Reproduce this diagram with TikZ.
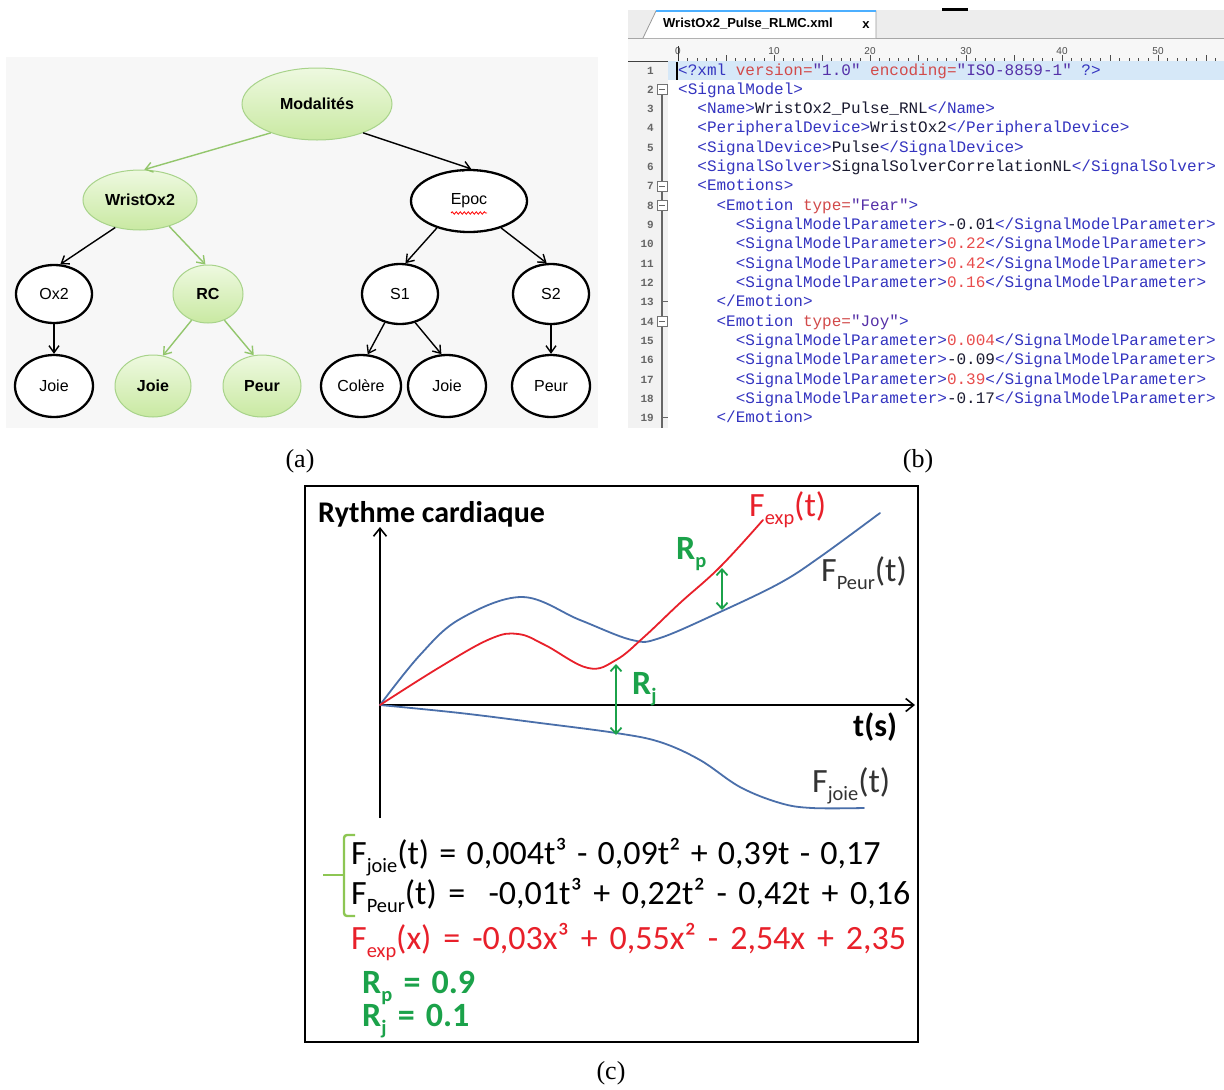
\documentclass[tikz,border=0pt]{standalone}
\usepackage{fontspec}
\setmainfont{Liberation Serif}
\newfontfamily\arialf{Liberation Sans}
\newfontfamily\monof{Liberation Mono}
\newfontfamily\calf{Carlito}
\usetikzlibrary{arrows.meta,shapes.geometric,decorations.pathmorphing}
\definecolor{gtop}{HTML}{EEF9E0}
\definecolor{gbot}{HTML}{C9E9A2}
\definecolor{gedge}{HTML}{A8D38A}
\definecolor{garr}{HTML}{93C66C}
\definecolor{panelbg}{HTML}{F7F7F7}
\definecolor{xtag}{HTML}{3434C0}
\definecolor{xattr}{HTML}{D24A4A}
\definecolor{xval}{HTML}{5530A8}
\definecolor{xnum}{HTML}{E84C4C}
\definecolor{xtext}{HTML}{1A1A30}
\definecolor{curveblue}{HTML}{4A6FAA}
\definecolor{expred}{HTML}{E8202A}
\definecolor{rgreen}{HTML}{1BA24A}
\definecolor{brgreen}{HTML}{8DC653}
\definecolor{hlblue}{HTML}{D6E8F8}
\makeatletter
\newcommand\mysub[1]{{\dimen@=\f@size pt\dimen@=0.6\dimen@\raisebox{-0.25em}{\fontsize{\strip@pt\dimen@}{\strip@pt\dimen@}\selectfont#1}}}
\makeatother
\newlength\eqspace
\newcommand\wsp[1]{\setlength\eqspace{#1}\spaceskip=\eqspace\relax}
\newcommand\xt[1]{\textcolor{xtag}{#1}}
\newcommand\xa[1]{\textcolor{xattr}{#1}}
\newcommand\xv[1]{\textcolor{xval}{#1}}
\newcommand\xn[1]{\textcolor{xnum}{#1}}
\newcommand\smpo{\xt{<SignalModelParameter>}}
\newcommand\smpc{\xt{</SignalModelParameter>}}
\tikzset{
  gnode/.style={ellipse, draw=gedge, line width=1pt, top color=gtop, bottom color=gbot,
    font=\arialf\bfseries\fontsize{16}{18}\selectfont, inner sep=0pt},
  bnode/.style={ellipse, draw=black, line width=2.3pt, fill=white,
    font=\arialf\fontsize{16}{18}\selectfont, inner sep=0pt},
  garrow/.style={draw=garr, line width=1.4pt, -{Straight Barb[length=7pt,width=10pt]}},
  barrow/.style={draw=black, line width=1.4pt, -{Straight Barb[length=7pt,width=10pt]}},
  xline/.style={anchor=base west, inner sep=0pt, font=\monof\fontsize{16}{18}\selectfont, text=xtext},
  lnum/.style={anchor=base east, inner sep=0pt, font=\monof\bfseries\fontsize{11}{12}\selectfont, text=black!60},
  foldbox/.style={draw=black!55, fill=white, line width=0.8pt},
  rtick/.style={draw=black!70, line width=0.8pt},
  plotlbl/.style={anchor=base west, inner sep=0pt, font=\calf\fontsize{34}{40}\selectfont},
  caplbl/.style={font=\fontsize{26}{30}\selectfont, inner sep=0pt},
  curve/.style={line width=1.8pt, line join=round, line cap=round},
  gdarrow/.style={draw=rgreen, line width=1.8pt, {Straight Barb[length=6pt,width=11pt]}-{Straight Barb[length=6pt,width=11pt]}},
  axisarrow/.style={draw=black, line width=1.6pt, -{Straight Barb[length=8pt,width=13pt]}}
}
\begin{document}
\begin{tikzpicture}[x=1pt,y=-1pt]
\useasboundingbox (0,0) rectangle (1224,1090);
\fill[white] (0,0) rectangle (1224,1090);

% ---------------- (a) tree ----------------
\fill[panelbg] (6,57) rectangle (598,428);
\node[gnode, minimum width=150pt, minimum height=72pt] (mod) at (317,104) {Modalités};
\node[gnode, minimum width=114pt, minimum height=60pt] (wo) at (140,200) {WristOx2};
\node[bnode, minimum width=116pt, minimum height=62pt] (ep) at (469,201) {Epoc};
\node[bnode, minimum width=76pt, minimum height=58pt] (ox) at (54,294) {Ox2};
\node[gnode, minimum width=70pt, minimum height=58pt] (rc) at (208,294) {RC};
\node[bnode, minimum width=76pt, minimum height=60pt] (s1) at (400,294) {S1};
\node[bnode, minimum width=76pt, minimum height=60pt] (s2) at (551,294) {S2};
\node[bnode, minimum width=78pt, minimum height=62pt] (j1) at (54,386) {Joie};
\node[gnode, minimum width=76pt, minimum height=62pt] (j2) at (153,386) {Joie};
\node[gnode, minimum width=78pt, minimum height=62pt] (p1) at (262,386) {Peur};
\node[bnode, minimum width=80pt, minimum height=62pt] (co) at (361,386) {Colère};
\node[bnode, minimum width=78pt, minimum height=62pt] (j3) at (447,386) {Joie};
\node[bnode, minimum width=78pt, minimum height=62pt] (p2) at (551,386) {Peur};
\draw[red, line width=0.8pt, decorate, decoration={snake, amplitude=1.2pt, segment length=4pt}] (451,213) -- (487,213);
\draw[garrow] (mod.212) -- (wo.82);
\draw[barrow] (mod.-32) -- (ep.86);
\draw[barrow] (wo.228) -- (ox.78);
\draw[garrow] (wo.-42) -- (rc.95);
\draw[barrow] (ox.south) -- (j1.north);
\draw[garrow] (rc.238) -- (j2.72);
\draw[garrow] (rc.-58) -- (p1.105);
\draw[barrow] (ep.220) -- (s1.80);
\draw[barrow] (ep.-40) -- (s2.98);
\draw[barrow] (s1.242) -- (co.78);
\draw[barrow] (s1.-62) -- (j3.100);
\draw[barrow] (s2.south) -- (p2.north);

% ---------------- (b) xml editor ----------------
\fill[black!7] (628,10) rectangle (1224,38);
\fill[black!3] (628,38) rectangle (1224,62);
\draw[black!35, line width=0.8pt] (628,38) -- (1224,38);
\fill[white] (643,38) -- (656,11) -- (876,11) -- (876,38) -- cycle;
\draw[black!40, line width=0.8pt] (643,38) -- (656,11) -- (876,11) -- (876,38);
\draw[blue!45!cyan!70, line width=2pt] (656,11) -- (876,11);
\node[anchor=west, inner sep=0pt, font=\arialf\bfseries\fontsize{13}{15}\selectfont] (tab) at (663,24) {WristOx2\_Pulse\_RLMC.xml};
\node[inner sep=0pt, font=\arialf\bfseries\fontsize{13}{15}\selectfont] (tabx) at (866,25) {x};
\draw[black, line width=3pt] (942,9) -- (968,9);
% ruler
\foreach \k in {0,...,56} \draw[rtick] ({678+9.6*\k},58) -- ({678+9.6*\k},61);
\foreach \k in {0,5,...,55} \draw[rtick] ({678+9.6*\k},55) -- ({678+9.6*\k},61);
\foreach \k in {0,10,20,30,40,50} \node[inner sep=0pt, font=\arialf\fontsize{10}{11}\selectfont, text=black!70] at ({678+9.6*\k},51) {\k};
\draw[black!75, line width=1pt] (628,61.5) -- (1224,61.5);
\draw[black!80, line width=1pt] (678,46) -- (678,61);
% editor
\fill[white] (628,62) rectangle (1224,428);
\fill[black!5] (628,62) rectangle (668,428);
\fill[hlblue] (668,61) rectangle (1224,80);
\draw[black, line width=1.2pt] (677,62) -- (677,80);
\draw[black!60, line width=1.2pt] (662,87) -- (662,428);
\foreach \i in {2,7,8,14} {
  \draw[foldbox] ({657},{70+19.33*(\i-1)-5}) rectangle ({667},{70+19.33*(\i-1)+5});
  \draw[black!60, line width=0.8pt] (659,{70+19.33*(\i-1)}) -- (665,{70+19.33*(\i-1)});
}
\foreach \i in {13,19} \draw[black!60, line width=1pt] (662,{70+19.33*(\i-1)}) -- (668,{70+19.33*(\i-1)});
\foreach \i in {1,...,19} \node[lnum] at (654,{70+19.33*(\i-1)+4}) {\i};
\node[xline] (xl1) at (678,75) {\xt{<?xml} \xa{version=}\xv{"1.0"} \xa{encoding=}\xv{"ISO-8859-1"} \xt{?>}};
\node[xline] (xl2) at (678,{75+19.33*1}) {\xt{<SignalModel>}};
\node[xline] (xl3) at (697.2,{75+19.33*2}) {\xt{<Name>}WristOx2\_Pulse\_RNL\xt{</Name>}};
\node[xline] (xl4) at (697.2,{75+19.33*3}) {\xt{<PeripheralDevice>}WristOx2\xt{</PeripheralDevice>}};
\node[xline] (xl5) at (697.2,{75+19.33*4}) {\xt{<SignalDevice>}Pulse\xt{</SignalDevice>}};
\node[xline] (xl6) at (697.2,{75+19.33*5}) {\xt{<SignalSolver>}SignalSolverCorrelationNL\xt{</SignalSolver>}};
\node[xline] (xl7) at (697.2,{75+19.33*6}) {\xt{<Emotions>}};
\node[xline] (xl8) at (716.4,{75+19.33*7}) {\xt{<Emotion} \xa{type=}\xv{"Fear"}\xt{>}};
\node[xline] (xl9) at (735.6,{75+19.33*8}) {\smpo-0.01\smpc};
\node[xline] (xl10) at (735.6,{75+19.33*9}) {\smpo\xn{0.22}\smpc};
\node[xline] (xl11) at (735.6,{75+19.33*10}) {\smpo\xn{0.42}\smpc};
\node[xline] (xl12) at (735.6,{75+19.33*11}) {\smpo\xn{0.16}\smpc};
\node[xline] (xl13) at (716.4,{75+19.33*12}) {\xt{</Emotion>}};
\node[xline] (xl14) at (716.4,{75+19.33*13}) {\xt{<Emotion} \xa{type=}\xv{"Joy"}\xt{>}};
\node[xline] (xl15) at (735.6,{75+19.33*14}) {\smpo\xn{0.004}\smpc};
\node[xline] (xl16) at (735.6,{75+19.33*15}) {\smpo-0.09\smpc};
\node[xline] (xl17) at (735.6,{75+19.33*16}) {\smpo\xn{0.39}\smpc};
\node[xline] (xl18) at (735.6,{75+19.33*17}) {\smpo-0.17\smpc};
\node[xline] (xl19) at (716.4,{75+19.33*18}) {\xt{</Emotion>}};

% ---------------- captions ----------------
\node[caplbl] (capa) at (300,461) {(a)};
\node[caplbl] (capb) at (918,461) {(b)};
\node[caplbl] (capc) at (611,1073) {(c)};

% ---------------- (c) plot ----------------
\draw[black, line width=2.6pt] (305,486) rectangle (918,1042);
\node[plotlbl, font=\calf\bfseries\fontsize{30}{34}\selectfont] (ylab) at (318,522) {Rythme cardiaque};
\draw[axisarrow] (380,818) -- (380,527);
\draw[axisarrow] (380,705) -- (915,705);
\node[plotlbl, font=\calf\bfseries\fontsize{32}{36}\selectfont] (xlab) at (853,736) {t(s)};
\draw[curve, curveblue] plot[smooth, tension=0.6] coordinates {(380,705) (420,655) (460,619) (522,597) (580,620) (632,640) (660,638) (720,612) (780,583) (820,557) (880,513)};
\draw[curve, curveblue] plot[smooth, tension=0.6] coordinates {(380,705) (460,713) (540,723) (616,733) (660,742) (700,760) (740,787) (780,803) (812,808) (864,808)};
\draw[curve, expred] plot[smooth, tension=0.65] coordinates {(380,705) (440,667) (490,639) (518,634) (545,645) (588,668) (616,660) (644,637) (680,603) (720,567) (763,520)};
\draw[gdarrow] (722,568) -- (722,610);
\draw[gdarrow] (616,664) -- (616,735);
\node[plotlbl, text=expred] (lexp) at (749,516) {F\mysub{exp}(t)};
\node[plotlbl, text=black!80] (lpeur) at (821,581) {F\mysub{Peur}(t)};
\node[plotlbl, text=black!80] (ljoie) at (812,792) {F\mysub{joie}(t)};
\node[plotlbl, text=rgreen, font=\calf\bfseries\fontsize{34}{40}\selectfont] (lrp) at (676,559) {R\mysub{p}};
\node[plotlbl, text=rgreen, font=\calf\bfseries\fontsize{34}{40}\selectfont] (lrj) at (632,694) {R\mysub{j}};
\draw[brgreen, line width=2.4pt, rounded corners=3pt] (355,835) -- (344,835) -- (344,916) -- (355,916);
\draw[brgreen, line width=2.4pt] (323,875) -- (344,875);
\node[plotlbl] (eq1) at (351,864) {\wsp{0.3em}F\mysub{joie}(t) = 0,004t³ - 0,09t² + 0,39t - 0,17};
\node[plotlbl] (eq2) at (351,904) {\wsp{0.34em}F\mysub{Peur}(t) = \ -0,01t³ + 0,22t² - 0,42t + 0,16};
\node[plotlbl, text=expred] (eq3) at (351,949) {\wsp{0.35em}F\mysub{exp}(x) = -0,03x³ + 0,55x² - 2,54x + 2,35};
\node[plotlbl, text=rgreen, font=\calf\bfseries\fontsize{34}{40}\selectfont] (eq4) at (362,993) {\wsp{0.33em}R\mysub{p} = 0.9};
\node[plotlbl, text=rgreen, font=\calf\bfseries\fontsize{34}{40}\selectfont] (eq5) at (362,1026) {\wsp{0.33em}R\mysub{j} = 0.1};
\end{tikzpicture}
\end{document}
